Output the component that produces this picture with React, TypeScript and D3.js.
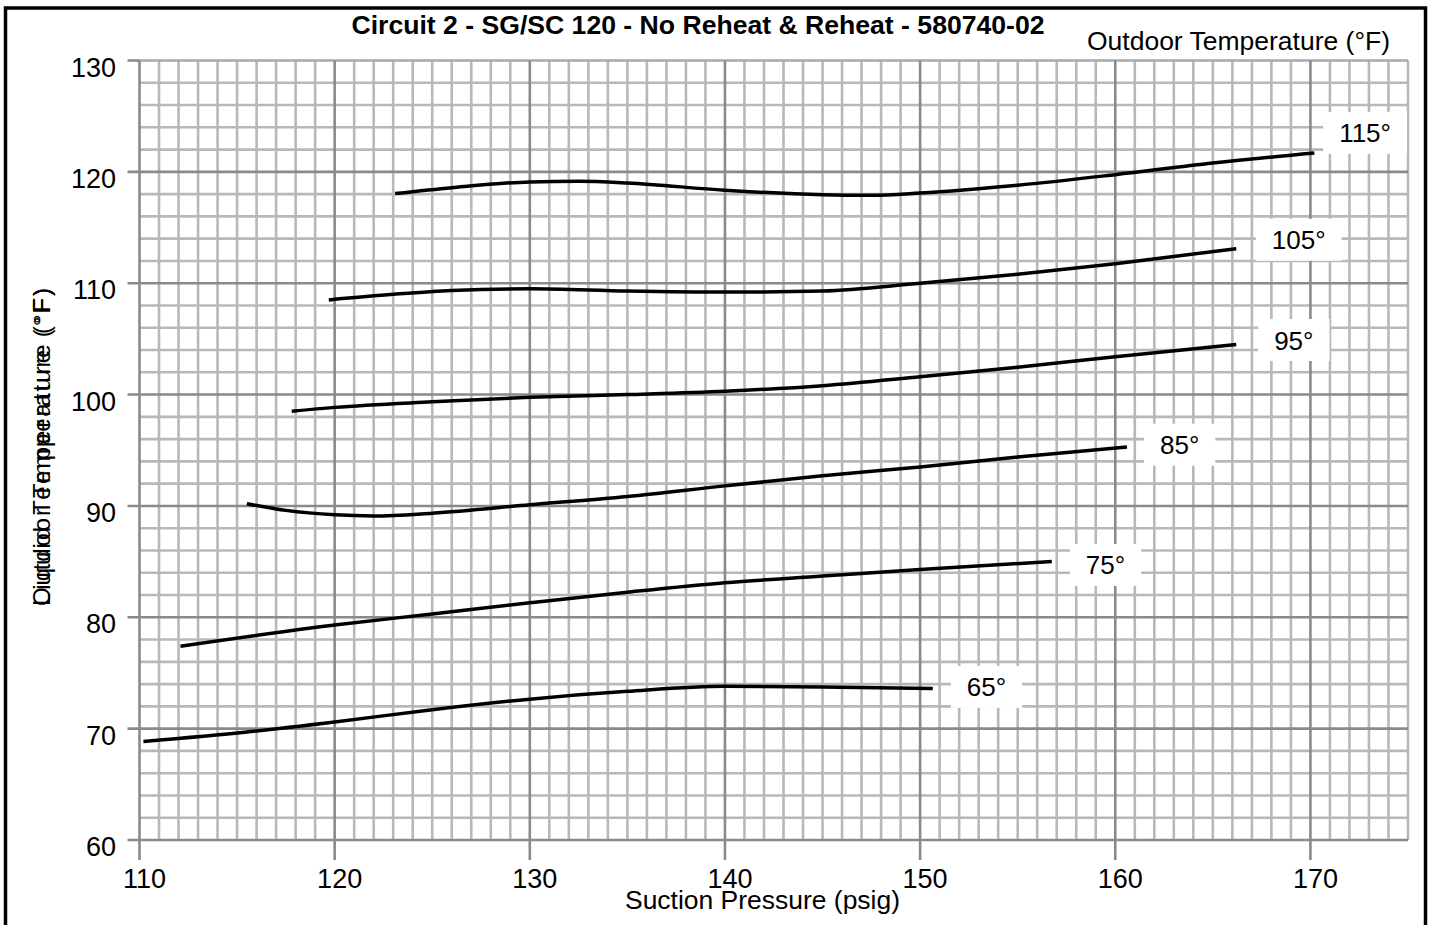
import React, { useEffect, useRef } from "react";
import * as d3 from "d3";

const title = "Circuit 2 - SG/SC 120 - No Reheat & Reheat - 580740-02";
const legendTitle = "Outdoor Temperature (°F)";
const xTitle = "Suction Pressure (psig)";
const yTitles = ["Liquid Temperature (°F)", "Outdoor Temperature (°F)"];

const xTicks = [110, 120, 130, 140, 150, 160, 170];
const yTicks = [60, 70, 80, 90, 100, 110, 120, 130];

const seriesNames = ["65°", "75°", "85°", "95°", "105°", "115°"];

const s65: [number, number][] = [
  [110.2, 68.85], [115.5, 69.7], [120, 70.6], [125, 71.7], [130, 72.65],
  [135, 73.35], [140, 73.8], [145, 73.75], [150.65, 73.6],
];
const s75: [number, number][] = [
  [112.1, 77.4], [120, 79.3], [125, 80.3], [130, 81.3], [135, 82.25],
  [140, 83.1], [145, 83.7], [150, 84.3], [156.75, 85.0],
];
const s85: [number, number][] = [
  [115.5, 90.2], [117.5, 89.6], [120, 89.2], [122, 89.1], [125, 89.35],
  [130, 90.1], [135, 90.85], [140, 91.8], [145, 92.7], [150, 93.5],
  [155, 94.4], [160.6, 95.3],
];
const s95: [number, number][] = [
  [117.8, 98.5], [120, 98.85], [125, 99.35], [130, 99.75], [135, 100.0],
  [140, 100.3], [145, 100.8], [150, 101.6], [155, 102.45], [160, 103.4],
  [166.2, 104.5],
];
const s105: [number, number][] = [
  [119.7, 108.5], [123, 109.0], [126, 109.35], [130, 109.5], [135, 109.3],
  [140, 109.2], [145, 109.3], [150, 110.0], [155, 110.8], [160, 111.75],
  [166.2, 113.1],
];
const s115: [number, number][] = [
  [123.1, 118.05], [126, 118.58], [130, 119.1], [132.5, 119.15], [135, 119.0],
  [140, 118.35], [145, 117.95], [147.5, 117.9], [150, 118.1], [155, 118.8],
  [160, 119.75], [165, 120.8], [170.2, 121.7],
];
const seriesData = [s65, s75, s85, s95, s105, s115];

// label anchor (centre) positions, in data units
const labelX = [153.4, 159.5, 163.3, 169.15, 169.4, 172.8];
const labelY = [73.75, 84.7, 95.5, 104.9, 113.9, 123.5];

const W = 1435;
const H = 925;
const FONT = "'Liberation Sans', Arial, Helvetica, sans-serif";

export default function App() {
  const ref = useRef<SVGSVGElement | null>(null);

  useEffect(() => {
    const svg = d3.select(ref.current);
    svg.selectAll("*").remove();

    const left = 139.5, right = 1408, top = 60.5, bottom = 840;
    const x = d3.scaleLinear().domain([110, 175]).range([left, right]);
    const y = d3.scaleLinear().domain([60, 130]).range([bottom, top]);

    svg.append("rect").attr("width", W).attr("height", H).attr("fill", "#fff");

    const minorColor = "#b8b8b8";
    const majorColor = "#8a8a8a";
    const gw = 2.6;

    const g = svg.append("g");
    // minor grid
    const xMinor = d3.range(110, 176, 1).filter((v) => v % 10 !== 0);
    const yMinor = d3.range(60, 131, 2).filter((v) => v % 10 !== 0);
    g.selectAll("line.xm").data(xMinor).enter().append("line")
      .attr("x1", (d) => x(d)).attr("x2", (d) => x(d))
      .attr("y1", top).attr("y2", bottom)
      .attr("stroke", minorColor).attr("stroke-width", gw);
    g.selectAll("line.ym").data(yMinor).enter().append("line")
      .attr("x1", left).attr("x2", right)
      .attr("y1", (d) => y(d)).attr("y2", (d) => y(d))
      .attr("stroke", minorColor).attr("stroke-width", gw);
    // top border (130) light
    g.append("line").attr("x1", left).attr("x2", right).attr("y1", y(130)).attr("y2", y(130))
      .attr("stroke", "#a8a8a8").attr("stroke-width", gw);
    // major grid
    g.selectAll("line.xM").data(xTicks).enter().append("line")
      .attr("x1", (d) => x(d)).attr("x2", (d) => x(d))
      .attr("y1", top).attr("y2", bottom + 20)
      .attr("stroke", majorColor).attr("stroke-width", gw);
    g.selectAll("line.yM").data(yTicks.filter((v) => v !== 130)).enter().append("line")
      .attr("x1", left - 12).attr("x2", right)
      .attr("y1", (d) => y(d)).attr("y2", (d) => y(d))
      .attr("stroke", majorColor).attr("stroke-width", gw);
    g.append("line").attr("x1", left - 12).attr("x2", left).attr("y1", y(130)).attr("y2", y(130))
      .attr("stroke", majorColor).attr("stroke-width", gw);

    // tick labels
    svg.selectAll("text.xt").data(xTicks).enter().append("text")
      .attr("x", (d) => x(d) + 5).attr("y", 888)
      .attr("text-anchor", "middle").attr("font-family", FONT).attr("font-size", 27)
      .attr("fill", "#000").text((d) => String(d));
    svg.selectAll("text.yt").data(yTicks).enter().append("text")
      .attr("x", 116).attr("y", (d) => y(d) + 16)
      .attr("text-anchor", "end").attr("font-family", FONT).attr("font-size", 27)
      .attr("fill", "#000").text((d) => String(d));

    // curves
    const line = d3.line<[number, number]>()
      .x((d) => x(d[0])).y((d) => y(d[1]))
      .curve(d3.curveMonotoneX);
    seriesData.forEach((s) => {
      svg.append("path").attr("d", line(s) as string)
        .attr("fill", "none").attr("stroke", "#000").attr("stroke-width", 3.5);
    });

    // labels with white boxes
    seriesNames.forEach((name, i) => {
      const cx = x(labelX[i]);
      const cy = y(labelY[i]);
      const lg = svg.append("g");
      const rect = lg.append("rect").attr("fill", "#fff");
      const t = lg.append("text")
        .attr("x", cx).attr("y", cy + 9.5)
        .attr("text-anchor", "middle").attr("font-family", FONT).attr("font-size", 26)
        .attr("fill", "#000").text(name);
      const tw = (t.node() as SVGTextElement).getComputedTextLength();
      rect.attr("x", cx - tw / 2 - 16).attr("y", cy - 21)
        .attr("width", tw + 32).attr("height", 42);
    });

    // titles
    svg.append("text").attr("x", 698).attr("y", 34)
      .attr("text-anchor", "middle").attr("font-family", FONT).attr("font-size", 25)
      .attr("font-weight", "bold").attr("textLength", 693).attr("lengthAdjust", "spacingAndGlyphs")
      .text(title);
    svg.append("text").attr("x", 1087).attr("y", 50)
      .attr("font-family", FONT).attr("font-size", 25)
      .attr("textLength", 303).attr("lengthAdjust", "spacingAndGlyphs")
      .text(legendTitle);
    svg.append("text").attr("x", 625).attr("y", 909)
      .attr("font-family", FONT).attr("font-size", 25)
      .attr("textLength", 275).attr("lengthAdjust", "spacingAndGlyphs")
      .text(xTitle);
    yTitles.forEach((tt) => {
      svg.append("text")
        .attr("transform", `translate(50,447) rotate(-90)`)
        .attr("text-anchor", "middle").attr("font-family", FONT).attr("font-size", 24)
        .attr("textLength", 318).attr("lengthAdjust", "spacing")
        .text(tt);
    });

    // frame
    svg.append("rect").attr("x", 5.5).attr("y", 8).attr("width", 1420).attr("height", 930)
      .attr("fill", "none").attr("stroke", "#000").attr("stroke-width", 3.5);
  }, []);

  return (
    <svg
      ref={ref}
      width={W}
      height={H}
      style={{ position: "absolute", left: 0, top: 0, display: "block" }}
    />
  );
}
